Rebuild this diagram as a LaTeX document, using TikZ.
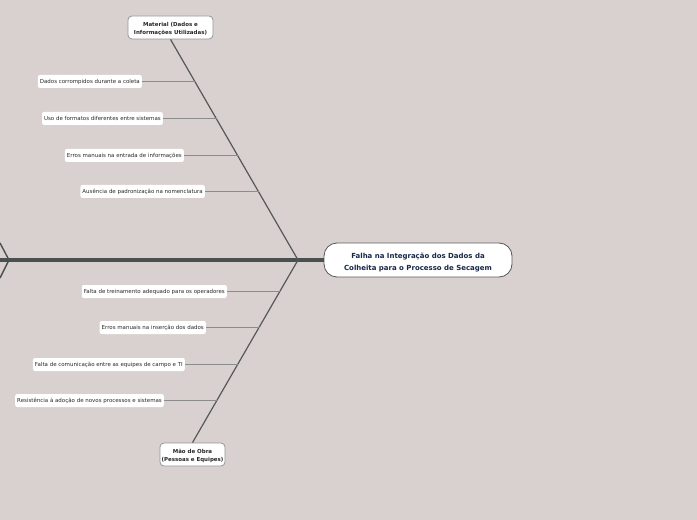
\documentclass[tikz,border=0pt]{standalone}
\usepackage{fontspec}
\setmainfont{DejaVu Sans}
\definecolor{bg}{RGB}{217,209,208}
\definecolor{spine}{RGB}{74,80,80}
\definecolor{rib}{RGB}{85,88,88}
\definecolor{twig}{RGB}{140,140,140}
\definecolor{headtxt}{RGB}{24,38,72}
\definecolor{lbltxt}{RGB}{40,40,40}
\definecolor{bord}{RGB}{150,150,150}
\newcommand{\lowertext}[1]{\raisebox{-1.5bp}[\height][\depth]{\begin{tabular}{@{}c@{}}#1\end{tabular}}}
\begin{document}
\begin{tikzpicture}[x=1bp,y=-1bp,
  causebox/.style={draw=bord, fill=white, rounded corners=4bp, line width=0.8bp,
    font=\fontsize{5.5}{8.5}\selectfont\bfseries, text=lbltxt,
    inner xsep=1.5bp, inner ysep=1bp, minimum height=23bp},
  lbl/.style={fill=white, rounded corners=2bp, font=\fontsize{5.5}{6}\selectfont,
    text=lbltxt, inner xsep=2bp, inner ysep=0bp, minimum height=13bp, anchor=east},
  headbox/.style={draw=rib, fill=white, rounded corners=13bp, line width=0.8bp,
    minimum width=188bp, minimum height=34bp,
    font=\fontsize{7}{12}\selectfont\bfseries, text=headtxt},
  spineline/.style={draw=spine, line width=3.2bp},
  ribline/.style={draw=rib, line width=1.2bp},
  twigline/.style={draw=twig, line width=0.9bp}]
\fill[bg] (0,0) rectangle (697,520);
\useasboundingbox (0,0) rectangle (697,520);

\node[headbox] (head) at (418,260) {\raisebox{-2.5bp}[\height][\depth]{\begin{tabular}{@{}c@{}}Falha na Integração dos Dados da\\Colheita para o Processo de Secagem\end{tabular}}};
\node[causebox, minimum width=85bp] (mat) at (170.5,27.5) {\lowertext{Material (Dados e\\Informações Utilizadas)}};
\node[causebox, minimum width=65bp] (mao) at (192.5,454.5) {\lowertext{Mão de Obra\\(Pessoas e Equipes)}};

\coordinate (J) at (298,260);
\coordinate (L) at (0,260);
\coordinate (C) at (9,260);
\coordinate (Ca) at (0,243);
\coordinate (Cb) at (0,278);

\coordinate (t1) at (195.9,81.5);
\coordinate (t2) at (217.0,118.5);
\coordinate (t3) at (238.1,155.5);
\coordinate (t4) at (258.7,191.5);
\coordinate (b1) at (280.2,291.5);
\coordinate (b2) at (259.6,327.5);
\coordinate (b3) at (238.3,364.5);
\coordinate (b4) at (217.7,400.5);

\node[lbl] (a1) at (142,81.5) {Dados corrompidos durante a coleta};
\node[lbl] (a2) at (163,118.5) {Uso de formatos diferentes entre sistemas};
\node[lbl] (a3) at (184,155.5) {Erros manuais na entrada de informações};
\node[lbl] (a4) at (205,191.5) {Ausência de padronização na nomenclatura};
\node[lbl] (c1) at (227,291.5) {Falta de treinamento adequado para os operadores};
\node[lbl] (c2) at (206,327.5) {Erros manuais na inserção dos dados};
\node[lbl] (c3) at (185,364.5) {Falta de comunicação entre as equipes de campo e TI};
\node[lbl] (c4) at (164,400.5) {Resistência à adoção de novos processos e sistemas};

\draw[spineline] (L) -- (head.west);
\draw[spine, line width=1.4bp] (Ca) -- (C) -- (Cb);
\draw[ribline] (mat.south) -- (J);
\draw[ribline] (J) -- (mao.north);

\draw[twigline] (a1.east) -- (t1);
\draw[twigline] (a2.east) -- (t2);
\draw[twigline] (a3.east) -- (t3);
\draw[twigline] (a4.east) -- (t4);
\draw[twigline] (c1.east) -- (b1);
\draw[twigline] (c2.east) -- (b2);
\draw[twigline] (c3.east) -- (b3);
\draw[twigline] (c4.east) -- (b4);
\end{tikzpicture}
\end{document}
